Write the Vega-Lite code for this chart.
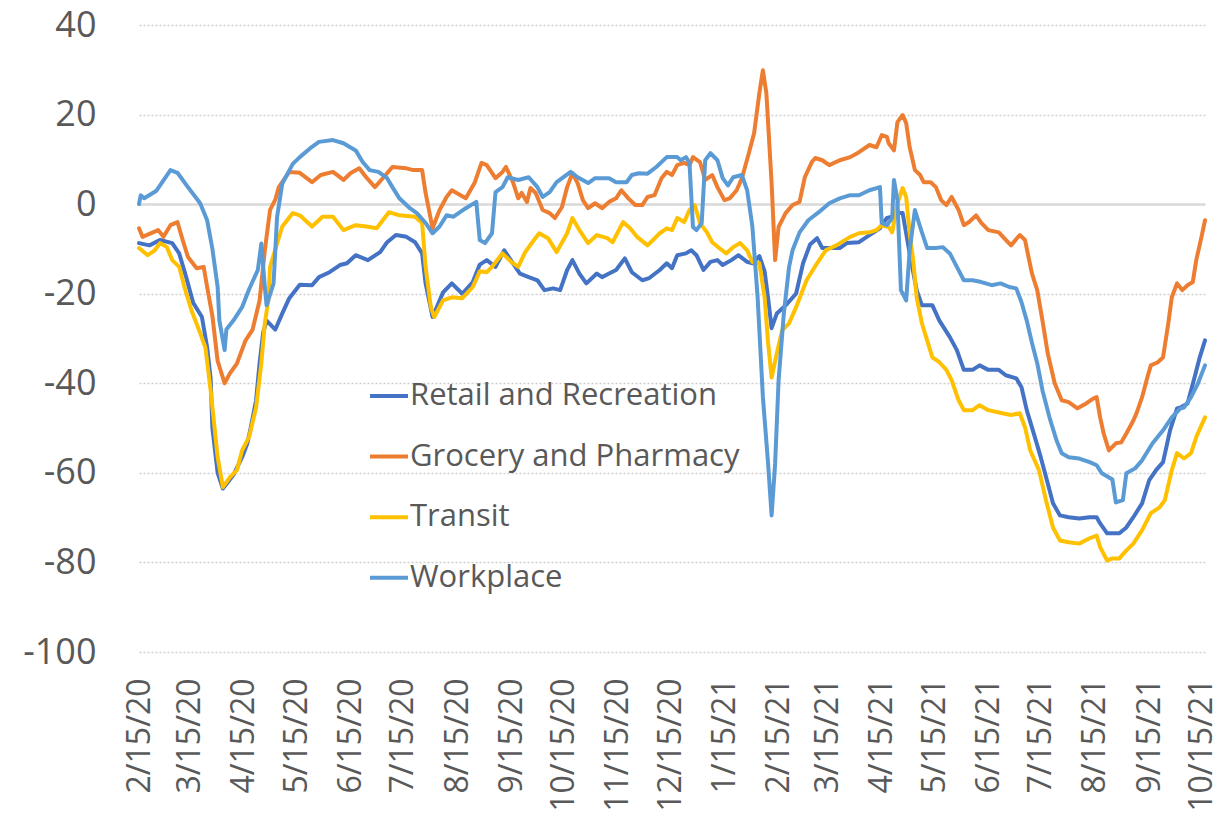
{
"$schema": "https://vega.github.io/schema/vega-lite/v6.json",
"width": 1066, "height": 627,
"autosize": {"type": "none"},
"padding": {"left": 139, "top": 25, "right": 21, "bottom": 166},
"background": "white",
"config": {"view": {"stroke": null}, "font": "Open Sans"},
"datasets": {
"retail": [
{"date":"2020-02-15","value":-8.7},{"date":"2020-02-21","value":-9.2},{"date":"2020-02-27","value":-8},{"date":"2020-03-05","value":-8.7},{"date":"2020-03-09","value":-11},{"date":"2020-03-13","value":-16.3},{"date":"2020-03-17","value":-22},{"date":"2020-03-22","value":-25.2},{"date":"2020-03-25","value":-32},{"date":"2020-03-27","value":-39},{"date":"2020-03-28","value":-50},{"date":"2020-03-31","value":-60},{"date":"2020-04-03","value":-63.5},{"date":"2020-04-06","value":-62},{"date":"2020-04-09","value":-60.5},{"date":"2020-04-14","value":-56.5},{"date":"2020-04-17","value":-53.4},{"date":"2020-04-19","value":-49.8},{"date":"2020-04-22","value":-43.8},{"date":"2020-04-24","value":-35.5},{"date":"2020-04-26","value":-28.8},{"date":"2020-04-28","value":-26},{"date":"2020-05-03","value":-28},{"date":"2020-05-07","value":-24.4},{"date":"2020-05-11","value":-21},{"date":"2020-05-17","value":-18},{"date":"2020-05-24","value":-18.1},{"date":"2020-05-28","value":-16.3},{"date":"2020-06-03","value":-15.2},{"date":"2020-06-09","value":-13.6},{"date":"2020-06-13","value":-13.2},{"date":"2020-06-18","value":-11.4},{"date":"2020-06-25","value":-12.5},{"date":"2020-07-02","value":-10.7},{"date":"2020-07-06","value":-8.5},{"date":"2020-07-11","value":-6.9},{"date":"2020-07-17","value":-7.3},{"date":"2020-07-22","value":-8.5},{"date":"2020-07-26","value":-11},{"date":"2020-07-28","value":-17.7},{"date":"2020-08-01","value":-25.2},{"date":"2020-08-07","value":-19.7},{"date":"2020-08-12","value":-17.7},{"date":"2020-08-18","value":-20},{"date":"2020-08-24","value":-17.4},{"date":"2020-08-28","value":-13.5},{"date":"2020-09-01","value":-12.5},{"date":"2020-09-06","value":-14},{"date":"2020-09-11","value":-10.3},{"date":"2020-09-16","value":-13.2},{"date":"2020-09-20","value":-15.5},{"date":"2020-09-25","value":-16.3},{"date":"2020-09-30","value":-17},{"date":"2020-10-04","value":-19.2},{"date":"2020-10-09","value":-18.8},{"date":"2020-10-13","value":-19.2},{"date":"2020-10-17","value":-14.7},{"date":"2020-10-20","value":-12.5},{"date":"2020-10-24","value":-15.5},{"date":"2020-10-28","value":-17.7},{"date":"2020-11-03","value":-15.5},{"date":"2020-11-06","value":-16.3},{"date":"2020-11-10","value":-15.5},{"date":"2020-11-14","value":-14.7},{"date":"2020-11-19","value":-12.1},{"date":"2020-11-23","value":-15.2},{"date":"2020-11-29","value":-17},{"date":"2020-12-03","value":-16.5},{"date":"2020-12-09","value":-14.7},{"date":"2020-12-13","value":-13.2},{"date":"2020-12-16","value":-14.3},{"date":"2020-12-19","value":-11.4},{"date":"2020-12-24","value":-11},{"date":"2020-12-27","value":-10.3},{"date":"2020-12-30","value":-11.4},{"date":"2021-01-03","value":-14.7},{"date":"2021-01-07","value":-12.9},{"date":"2021-01-11","value":-12.5},{"date":"2021-01-14","value":-13.6},{"date":"2021-01-19","value":-12.5},{"date":"2021-01-23","value":-11.4},{"date":"2021-01-28","value":-12.9},{"date":"2021-01-31","value":-13.2},{"date":"2021-02-04","value":-11.6},{"date":"2021-02-07","value":-15},{"date":"2021-02-09","value":-21},{"date":"2021-02-11","value":-27.7},{"date":"2021-02-14","value":-24.4},{"date":"2021-02-19","value":-22.6},{"date":"2021-02-25","value":-20},{"date":"2021-03-01","value":-13.2},{"date":"2021-03-05","value":-9},{"date":"2021-03-09","value":-7.6},{"date":"2021-03-12","value":-9.8},{"date":"2021-03-16","value":-9.8},{"date":"2021-03-22","value":-9.8},{"date":"2021-03-26","value":-8.7},{"date":"2021-04-02","value":-8.5},{"date":"2021-04-08","value":-6.9},{"date":"2021-04-14","value":-5.4},{"date":"2021-04-15","value":-4.7},{"date":"2021-04-18","value":-3.1},{"date":"2021-04-21","value":-2.8},{"date":"2021-04-25","value":-2},{"date":"2021-04-27","value":-2},{"date":"2021-05-01","value":-11},{"date":"2021-05-05","value":-19.2},{"date":"2021-05-08","value":-22.6},{"date":"2021-05-14","value":-22.6},{"date":"2021-05-18","value":-26},{"date":"2021-05-24","value":-29.7},{"date":"2021-05-28","value":-32.6},{"date":"2021-06-01","value":-37},{"date":"2021-06-06","value":-37},{"date":"2021-06-10","value":-36},{"date":"2021-06-15","value":-37},{"date":"2021-06-21","value":-37},{"date":"2021-06-25","value":-38.2},{"date":"2021-07-01","value":-38.9},{"date":"2021-07-04","value":-40.9},{"date":"2021-07-07","value":-46},{"date":"2021-07-11","value":-51.2},{"date":"2021-07-15","value":-56.5},{"date":"2021-07-19","value":-62.3},{"date":"2021-07-22","value":-66.8},{"date":"2021-07-26","value":-69.5},{"date":"2021-07-31","value":-69.9},{"date":"2021-08-06","value":-70.2},{"date":"2021-08-12","value":-69.9},{"date":"2021-08-16","value":-69.9},{"date":"2021-08-18","value":-71.3},{"date":"2021-08-22","value":-73.5},{"date":"2021-08-26","value":-73.5},{"date":"2021-08-29","value":-73.5},{"date":"2021-09-02","value":-72.2},{"date":"2021-09-06","value":-69.9},{"date":"2021-09-11","value":-66.8},{"date":"2021-09-15","value":-61.7},{"date":"2021-09-19","value":-59.4},{"date":"2021-09-23","value":-57.6},{"date":"2021-09-27","value":-50.5},{"date":"2021-10-01","value":-45.6},{"date":"2021-10-03","value":-45.4},{"date":"2021-10-07","value":-44.5},{"date":"2021-10-11","value":-38.7},{"date":"2021-10-14","value":-34.2},{"date":"2021-10-17","value":-30.4}
],
"grocery": [
{"date":"2020-02-15","value":-5.4},{"date":"2020-02-17","value":-7.3},{"date":"2020-02-26","value":-5.8},{"date":"2020-02-29","value":-7.3},{"date":"2020-03-04","value":-4.7},{"date":"2020-03-08","value":-4},{"date":"2020-03-11","value":-8},{"date":"2020-03-14","value":-11.8},{"date":"2020-03-19","value":-14.3},{"date":"2020-03-23","value":-14},{"date":"2020-03-25","value":-18.5},{"date":"2020-03-28","value":-25},{"date":"2020-03-31","value":-35},{"date":"2020-04-04","value":-40},{"date":"2020-04-07","value":-37.8},{"date":"2020-04-11","value":-35.6},{"date":"2020-04-16","value":-30.4},{"date":"2020-04-20","value":-28},{"date":"2020-04-24","value":-21.5},{"date":"2020-04-27","value":-10.3},{"date":"2020-04-30","value":-1.3},{"date":"2020-05-03","value":1},{"date":"2020-05-05","value":3.8},{"date":"2020-05-11","value":7.2},{"date":"2020-05-17","value":7},{"date":"2020-05-24","value":4.9},{"date":"2020-05-29","value":6.5},{"date":"2020-06-05","value":7.2},{"date":"2020-06-11","value":5.4},{"date":"2020-06-15","value":6.9},{"date":"2020-06-20","value":8},{"date":"2020-06-24","value":6},{"date":"2020-06-29","value":3.8},{"date":"2020-07-04","value":6},{"date":"2020-07-09","value":8.3},{"date":"2020-07-17","value":8},{"date":"2020-07-21","value":7.6},{"date":"2020-07-26","value":7.6},{"date":"2020-07-28","value":2.5},{"date":"2020-08-01","value":-5.4},{"date":"2020-08-05","value":-1.3},{"date":"2020-08-09","value":1.6},{"date":"2020-08-12","value":3.1},{"date":"2020-08-20","value":1.3},{"date":"2020-08-25","value":4.7},{"date":"2020-08-29","value":9.2},{"date":"2020-09-01","value":8.7},{"date":"2020-09-06","value":5.8},{"date":"2020-09-10","value":7.2},{"date":"2020-09-12","value":8.3},{"date":"2020-09-16","value":4.9},{"date":"2020-09-19","value":1.3},{"date":"2020-09-21","value":2.5},{"date":"2020-09-24","value":0.5},{"date":"2020-09-26","value":3.6},{"date":"2020-09-29","value":2.5},{"date":"2020-10-03","value":-1.3},{"date":"2020-10-07","value":-2},{"date":"2020-10-10","value":-3.1},{"date":"2020-10-14","value":-0.7},{"date":"2020-10-17","value":3.8},{"date":"2020-10-20","value":6.9},{"date":"2020-10-23","value":4.7},{"date":"2020-10-26","value":0.9},{"date":"2020-10-29","value":-0.9},{"date":"2020-11-02","value":0.2},{"date":"2020-11-06","value":-0.9},{"date":"2020-11-10","value":0.5},{"date":"2020-11-14","value":1.3},{"date":"2020-11-17","value":3.1},{"date":"2020-11-21","value":1.3},{"date":"2020-11-25","value":-0.2},{"date":"2020-11-29","value":-0.2},{"date":"2020-12-02","value":1.6},{"date":"2020-12-06","value":2},{"date":"2020-12-10","value":5.8},{"date":"2020-12-13","value":7.2},{"date":"2020-12-16","value":6.5},{"date":"2020-12-19","value":8.7},{"date":"2020-12-23","value":9.2},{"date":"2020-12-26","value":8.7},{"date":"2020-12-28","value":10.5},{"date":"2021-01-01","value":9.4},{"date":"2021-01-04","value":5.4},{"date":"2021-01-08","value":6.5},{"date":"2021-01-11","value":3.8},{"date":"2021-01-15","value":0.9},{"date":"2021-01-18","value":1.3},{"date":"2021-01-22","value":3.1},{"date":"2021-01-25","value":5.8},{"date":"2021-01-29","value":11.4},{"date":"2021-02-01","value":15.9},{"date":"2021-02-04","value":24.8},{"date":"2021-02-06","value":29.9},{"date":"2021-02-08","value":24.8},{"date":"2021-02-11","value":4.7},{"date":"2021-02-13","value":-12.5},{"date":"2021-02-15","value":-5.1},{"date":"2021-02-19","value":-2},{"date":"2021-02-23","value":-0.2},{"date":"2021-02-27","value":0.5},{"date":"2021-03-02","value":6},{"date":"2021-03-06","value":9.4},{"date":"2021-03-08","value":10.3},{"date":"2021-03-12","value":9.8},{"date":"2021-03-16","value":8.7},{"date":"2021-03-22","value":9.8},{"date":"2021-03-28","value":10.5},{"date":"2021-04-02","value":11.6},{"date":"2021-04-08","value":13.2},{"date":"2021-04-12","value":12.7},{"date":"2021-04-15","value":15.4},{"date":"2021-04-18","value":15},{"date":"2021-04-19","value":13.6},{"date":"2021-04-22","value":12},{"date":"2021-04-24","value":18.3},{"date":"2021-04-27","value":19.9},{"date":"2021-04-29","value":18.1},{"date":"2021-05-01","value":12.7},{"date":"2021-05-04","value":7.6},{"date":"2021-05-07","value":6.5},{"date":"2021-05-09","value":4.9},{"date":"2021-05-13","value":4.9},{"date":"2021-05-16","value":3.8},{"date":"2021-05-19","value":0.9},{"date":"2021-05-22","value":-0.2},{"date":"2021-05-25","value":1.6},{"date":"2021-05-29","value":-1.3},{"date":"2021-06-01","value":-4.7},{"date":"2021-06-04","value":-4},{"date":"2021-06-08","value":-2.5},{"date":"2021-06-11","value":-4.2},{"date":"2021-06-15","value":-5.8},{"date":"2021-06-21","value":-6.3},{"date":"2021-06-25","value":-8},{"date":"2021-06-28","value":-9.2},{"date":"2021-07-03","value":-6.9},{"date":"2021-07-06","value":-8},{"date":"2021-07-08","value":-11.8},{"date":"2021-07-10","value":-15.5},{"date":"2021-07-13","value":-19.2},{"date":"2021-07-16","value":-26},{"date":"2021-07-19","value":-33.3},{"date":"2021-07-23","value":-40},{"date":"2021-07-27","value":-43.8},{"date":"2021-07-31","value":-44.2},{"date":"2021-08-05","value":-45.6},{"date":"2021-08-10","value":-44.5},{"date":"2021-08-14","value":-43.4},{"date":"2021-08-16","value":-43.1},{"date":"2021-08-18","value":-47.6},{"date":"2021-08-20","value":-51.2},{"date":"2021-08-23","value":-55},{"date":"2021-08-27","value":-53.4},{"date":"2021-08-30","value":-53.2},{"date":"2021-09-02","value":-51.2},{"date":"2021-09-06","value":-48.3},{"date":"2021-09-08","value":-46.5},{"date":"2021-09-11","value":-43.1},{"date":"2021-09-14","value":-38.7},{"date":"2021-09-16","value":-36},{"date":"2021-09-20","value":-35.3},{"date":"2021-09-23","value":-34.2},{"date":"2021-09-26","value":-26.6},{"date":"2021-09-28","value":-20.8},{"date":"2021-10-01","value":-17.7},{"date":"2021-10-04","value":-19.2},{"date":"2021-10-07","value":-18.1},{"date":"2021-10-10","value":-17.4},{"date":"2021-10-12","value":-12.5},{"date":"2021-10-15","value":-7.3},{"date":"2021-10-17","value":-3.6}
],
"transit": [
{"date":"2020-02-15","value":-9.8},{"date":"2020-02-20","value":-11.4},{"date":"2020-02-24","value":-10.3},{"date":"2020-02-27","value":-8.7},{"date":"2020-03-02","value":-9.6},{"date":"2020-03-05","value":-12.5},{"date":"2020-03-09","value":-14},{"date":"2020-03-12","value":-18.5},{"date":"2020-03-16","value":-23.7},{"date":"2020-03-21","value":-28.8},{"date":"2020-03-24","value":-32},{"date":"2020-03-27","value":-41.6},{"date":"2020-03-31","value":-56.5},{"date":"2020-04-03","value":-63.2},{"date":"2020-04-07","value":-61},{"date":"2020-04-11","value":-59.4},{"date":"2020-04-14","value":-55},{"date":"2020-04-18","value":-52},{"date":"2020-04-22","value":-45.4},{"date":"2020-04-25","value":-35.5},{"date":"2020-04-27","value":-26.6},{"date":"2020-04-29","value":-21.5},{"date":"2020-04-30","value":-14},{"date":"2020-05-04","value":-8.8},{"date":"2020-05-07","value":-5},{"date":"2020-05-13","value":-2},{"date":"2020-05-17","value":-2.5},{"date":"2020-05-24","value":-5},{"date":"2020-05-30","value":-2.8},{"date":"2020-06-05","value":-2.8},{"date":"2020-06-11","value":-5.8},{"date":"2020-06-18","value":-4.7},{"date":"2020-06-24","value":-5},{"date":"2020-06-30","value":-5.4},{"date":"2020-07-07","value":-1.8},{"date":"2020-07-13","value":-2.5},{"date":"2020-07-22","value":-2.8},{"date":"2020-07-26","value":-4.2},{"date":"2020-07-28","value":-14},{"date":"2020-07-31","value":-23},{"date":"2020-08-02","value":-25.2},{"date":"2020-08-07","value":-21.5},{"date":"2020-08-12","value":-20.8},{"date":"2020-08-18","value":-21},{"date":"2020-08-24","value":-18.5},{"date":"2020-08-28","value":-15},{"date":"2020-09-01","value":-15.2},{"date":"2020-09-04","value":-14},{"date":"2020-09-10","value":-11},{"date":"2020-09-15","value":-12.9},{"date":"2020-09-19","value":-14},{"date":"2020-09-23","value":-10.7},{"date":"2020-09-28","value":-8},{"date":"2020-10-01","value":-6.5},{"date":"2020-10-06","value":-7.6},{"date":"2020-10-11","value":-10.7},{"date":"2020-10-17","value":-6.5},{"date":"2020-10-20","value":-3.1},{"date":"2020-10-24","value":-5.8},{"date":"2020-10-29","value":-8.7},{"date":"2020-11-03","value":-6.9},{"date":"2020-11-09","value":-7.6},{"date":"2020-11-12","value":-8.5},{"date":"2020-11-18","value":-4},{"date":"2020-11-22","value":-5.4},{"date":"2020-11-26","value":-7.3},{"date":"2020-12-02","value":-9.2},{"date":"2020-12-09","value":-6.5},{"date":"2020-12-13","value":-5.4},{"date":"2020-12-16","value":-5.8},{"date":"2020-12-19","value":-3.1},{"date":"2020-12-23","value":-4},{"date":"2020-12-26","value":-1.3},{"date":"2020-12-29","value":-0.2},{"date":"2021-01-01","value":-4.2},{"date":"2021-01-05","value":-6.3},{"date":"2021-01-08","value":-8.5},{"date":"2021-01-12","value":-9.8},{"date":"2021-01-16","value":-11},{"date":"2021-01-20","value":-9.6},{"date":"2021-01-24","value":-8.7},{"date":"2021-01-28","value":-10.3},{"date":"2021-01-31","value":-12.9},{"date":"2021-02-04","value":-13.2},{"date":"2021-02-07","value":-20.8},{"date":"2021-02-09","value":-31},{"date":"2021-02-11","value":-38.7},{"date":"2021-02-14","value":-33.3},{"date":"2021-02-17","value":-28.2},{"date":"2021-02-21","value":-26.6},{"date":"2021-02-25","value":-23},{"date":"2021-03-03","value":-17},{"date":"2021-03-09","value":-13.2},{"date":"2021-03-14","value":-10.3},{"date":"2021-03-20","value":-9.2},{"date":"2021-03-28","value":-7.3},{"date":"2021-04-02","value":-6.5},{"date":"2021-04-08","value":-6.3},{"date":"2021-04-12","value":-5.8},{"date":"2021-04-15","value":-4.7},{"date":"2021-04-19","value":-5.1},{"date":"2021-04-21","value":-6.3},{"date":"2021-04-24","value":0.2},{"date":"2021-04-27","value":3.6},{"date":"2021-04-29","value":1.6},{"date":"2021-05-01","value":-6.5},{"date":"2021-05-03","value":-12.5},{"date":"2021-05-05","value":-20.8},{"date":"2021-05-08","value":-26.6},{"date":"2021-05-11","value":-30.4},{"date":"2021-05-14","value":-34.2},{"date":"2021-05-18","value":-35.3},{"date":"2021-05-22","value":-37},{"date":"2021-05-25","value":-39.3},{"date":"2021-05-29","value":-43.8},{"date":"2021-06-01","value":-46},{"date":"2021-06-06","value":-46},{"date":"2021-06-10","value":-44.9},{"date":"2021-06-15","value":-46},{"date":"2021-06-23","value":-46.7},{"date":"2021-06-28","value":-47.1},{"date":"2021-07-03","value":-46.7},{"date":"2021-07-06","value":-49.8},{"date":"2021-07-09","value":-55},{"date":"2021-07-14","value":-59.4},{"date":"2021-07-18","value":-66.1},{"date":"2021-07-22","value":-72.2},{"date":"2021-07-26","value":-75.1},{"date":"2021-07-31","value":-75.5},{"date":"2021-08-06","value":-75.8},{"date":"2021-08-12","value":-74.6},{"date":"2021-08-16","value":-74},{"date":"2021-08-18","value":-76.6},{"date":"2021-08-22","value":-79.6},{"date":"2021-08-25","value":-79.1},{"date":"2021-08-29","value":-79.1},{"date":"2021-09-02","value":-77.3},{"date":"2021-09-06","value":-75.8},{"date":"2021-09-11","value":-72.8},{"date":"2021-09-16","value":-69},{"date":"2021-09-21","value":-67.7},{"date":"2021-09-24","value":-66.1},{"date":"2021-09-28","value":-59.4},{"date":"2021-10-01","value":-55.6},{"date":"2021-10-05","value":-56.8},{"date":"2021-10-09","value":-55.6},{"date":"2021-10-12","value":-52},{"date":"2021-10-17","value":-47.6}
],
"workplace": [
{"date":"2020-02-15","value":0},{"date":"2020-02-16","value":2},{"date":"2020-02-18","value":1.3},{"date":"2020-02-25","value":3},{"date":"2020-03-04","value":7.6},{"date":"2020-03-08","value":7},{"date":"2020-03-14","value":3.8},{"date":"2020-03-21","value":0.2},{"date":"2020-03-25","value":-3.6},{"date":"2020-03-28","value":-10},{"date":"2020-03-31","value":-18.5},{"date":"2020-04-01","value":-26},{"date":"2020-04-04","value":-32.6},{"date":"2020-04-05","value":-28},{"date":"2020-04-09","value":-26},{"date":"2020-04-14","value":-23},{"date":"2020-04-18","value":-19},{"date":"2020-04-23","value":-14.7},{"date":"2020-04-25","value":-8.8},{"date":"2020-04-27","value":-18.5},{"date":"2020-04-28","value":-22.6},{"date":"2020-05-02","value":-17.7},{"date":"2020-05-04","value":-2.9},{"date":"2020-05-07","value":4.6},{"date":"2020-05-13","value":9},{"date":"2020-05-17","value":10.5},{"date":"2020-05-23","value":12.5},{"date":"2020-05-28","value":13.9},{"date":"2020-06-05","value":14.3},{"date":"2020-06-11","value":13.6},{"date":"2020-06-18","value":12},{"date":"2020-06-22","value":9.4},{"date":"2020-06-26","value":7.6},{"date":"2020-07-01","value":7.2},{"date":"2020-07-06","value":5.8},{"date":"2020-07-09","value":3.8},{"date":"2020-07-13","value":1.3},{"date":"2020-07-19","value":-0.9},{"date":"2020-07-23","value":-2},{"date":"2020-07-28","value":-4.2},{"date":"2020-08-01","value":-6.5},{"date":"2020-08-05","value":-5},{"date":"2020-08-09","value":-2.5},{"date":"2020-08-13","value":-2.8},{"date":"2020-08-20","value":-0.9},{"date":"2020-08-26","value":0.5},{"date":"2020-08-28","value":-8},{"date":"2020-08-31","value":-8.7},{"date":"2020-09-04","value":-6.5},{"date":"2020-09-06","value":2.7},{"date":"2020-09-10","value":3.8},{"date":"2020-09-13","value":6},{"date":"2020-09-19","value":5.4},{"date":"2020-09-25","value":6},{"date":"2020-09-30","value":3.8},{"date":"2020-10-03","value":1.6},{"date":"2020-10-07","value":2.7},{"date":"2020-10-11","value":4.9},{"date":"2020-10-19","value":7.2},{"date":"2020-10-23","value":6},{"date":"2020-10-29","value":4.7},{"date":"2020-11-02","value":5.8},{"date":"2020-11-10","value":5.8},{"date":"2020-11-14","value":4.9},{"date":"2020-11-20","value":4.9},{"date":"2020-11-23","value":6.5},{"date":"2020-11-27","value":6.9},{"date":"2020-12-02","value":6.8},{"date":"2020-12-07","value":8.3},{"date":"2020-12-13","value":10.5},{"date":"2020-12-19","value":10.5},{"date":"2020-12-21","value":9.8},{"date":"2020-12-24","value":10.5},{"date":"2020-12-26","value":9.2},{"date":"2020-12-28","value":-5.1},{"date":"2020-12-30","value":-5.8},{"date":"2021-01-02","value":-4.2},{"date":"2021-01-04","value":9.8},{"date":"2021-01-07","value":11.4},{"date":"2021-01-11","value":9.8},{"date":"2021-01-14","value":5.8},{"date":"2021-01-17","value":4.2},{"date":"2021-01-20","value":6},{"date":"2021-01-25","value":6.5},{"date":"2021-01-28","value":3.1},{"date":"2021-01-31","value":-5},{"date":"2021-02-03","value":-20.8},{"date":"2021-02-06","value":-43},{"date":"2021-02-09","value":-58},{"date":"2021-02-11","value":-69.5},{"date":"2021-02-13","value":-58},{"date":"2021-02-15","value":-39.3},{"date":"2021-02-18","value":-24.4},{"date":"2021-02-21","value":-14},{"date":"2021-02-23","value":-10.3},{"date":"2021-02-27","value":-6.3},{"date":"2021-03-04","value":-3.6},{"date":"2021-03-10","value":-1.8},{"date":"2021-03-16","value":0.2},{"date":"2021-03-22","value":1.3},{"date":"2021-03-28","value":2},{"date":"2021-04-02","value":2},{"date":"2021-04-08","value":3.1},{"date":"2021-04-14","value":3.8},{"date":"2021-04-15","value":-4.2},{"date":"2021-04-18","value":-4.7},{"date":"2021-04-21","value":-3.1},{"date":"2021-04-22","value":5.4},{"date":"2021-04-24","value":0.9},{"date":"2021-04-26","value":-19.2},{"date":"2021-04-29","value":-21.5},{"date":"2021-05-01","value":-10.3},{"date":"2021-05-04","value":-1.3},{"date":"2021-05-07","value":-5.1},{"date":"2021-05-11","value":-9.8},{"date":"2021-05-16","value":-9.8},{"date":"2021-05-20","value":-9.6},{"date":"2021-05-24","value":-11},{"date":"2021-05-28","value":-14},{"date":"2021-06-01","value":-17},{"date":"2021-06-06","value":-17},{"date":"2021-06-11","value":-17.4},{"date":"2021-06-17","value":-18.1},{"date":"2021-06-22","value":-17.7},{"date":"2021-06-27","value":-18.5},{"date":"2021-07-01","value":-18.8},{"date":"2021-07-04","value":-21.9},{"date":"2021-07-07","value":-26},{"date":"2021-07-10","value":-31},{"date":"2021-07-13","value":-35.5},{"date":"2021-07-16","value":-41.6},{"date":"2021-07-20","value":-47.6},{"date":"2021-07-24","value":-52.7},{"date":"2021-07-27","value":-55.6},{"date":"2021-07-31","value":-56.5},{"date":"2021-08-06","value":-56.8},{"date":"2021-08-12","value":-57.6},{"date":"2021-08-16","value":-58.3},{"date":"2021-08-19","value":-60.1},{"date":"2021-08-25","value":-61.5},{"date":"2021-08-27","value":-66.6},{"date":"2021-08-31","value":-66.1},{"date":"2021-09-02","value":-60.1},{"date":"2021-09-07","value":-59},{"date":"2021-09-11","value":-57.2},{"date":"2021-09-17","value":-53.4},{"date":"2021-09-23","value":-50.5},{"date":"2021-09-28","value":-47.6},{"date":"2021-10-03","value":-45.6},{"date":"2021-10-05","value":-45.4},{"date":"2021-10-09","value":-43.1},{"date":"2021-10-13","value":-40},{"date":"2021-10-17","value":-36}
]
},
"encoding": {
  "x": {"field": "date", "type": "temporal",
    "scale": {"type": "utc", "domain": [{"year": 2020, "month": 2, "date": 15, "utc": true}, {"year": 2021, "month": 10, "date": 17, "utc": true}]},
    "axis": {"title": null, "grid": false, "domain": false, "ticks": false, "format": "%-m/%-d/%y", "labelAngle": -90, "labelPadding": 26, "labelFontSize": 32, "labelFont": "Open Sans", "labelColor": "#595959", "labelOverlap": false, "labelFlush": false,
      "values": [{"year":2020,"month":2,"date":15,"utc":true},{"year":2020,"month":3,"date":15,"utc":true},{"year":2020,"month":4,"date":15,"utc":true},{"year":2020,"month":5,"date":15,"utc":true},{"year":2020,"month":6,"date":15,"utc":true},{"year":2020,"month":7,"date":15,"utc":true},{"year":2020,"month":8,"date":15,"utc":true},{"year":2020,"month":9,"date":15,"utc":true},{"year":2020,"month":10,"date":15,"utc":true},{"year":2020,"month":11,"date":15,"utc":true},{"year":2020,"month":12,"date":15,"utc":true},{"year":2021,"month":1,"date":15,"utc":true},{"year":2021,"month":2,"date":15,"utc":true},{"year":2021,"month":3,"date":15,"utc":true},{"year":2021,"month":4,"date":15,"utc":true},{"year":2021,"month":5,"date":15,"utc":true},{"year":2021,"month":6,"date":15,"utc":true},{"year":2021,"month":7,"date":15,"utc":true},{"year":2021,"month":8,"date":15,"utc":true},{"year":2021,"month":9,"date":15,"utc":true},{"year":2021,"month":10,"date":15,"utc":true}]}},
  "y": {"field": "value", "type": "quantitative",
    "scale": {"domain": [-100, 40], "nice": false, "zero": false},
    "axis": {"title": null, "domain": false, "ticks": false, "values": [-100, -80, -60, -40, -20, 0, 20, 40], "labelExpr": "datum.value + ''", "labelPadding": 43, "labelFontSize": 36, "labelFont": "Open Sans", "labelColor": "#595959",
      "gridColor": {"condition": {"test": "datum.value === 0", "value": "#D9D9D9"}, "value": "#CFCFCF"},
      "gridWidth": {"condition": {"test": "datum.value === 0", "value": 2.5}, "value": 1.6},
      "gridDash": {"condition": {"test": "datum.value === 0", "value": [1, 0]}, "value": [2, 2]}}}
},
"layer": [
  {"data": {"name": "retail"}, "mark": {"type": "line", "strokeWidth": 4, "strokeJoin": "round", "strokeCap": "round"},
   "encoding": {"color": {"datum": "Retail and Recreation", "type": "nominal",
     "scale": {"domain": ["Retail and Recreation", "Grocery and Pharmacy", "Transit", "Workplace"], "range": ["#4472C4", "#ED7D31", "#FFC000", "#5B9BD5"]},
     "legend": {"orient": "none", "legendX": 229, "legendY": 350, "title": null, "padding": 0, "symbolType": "stroke", "symbolSize": 1444, "symbolStrokeWidth": 4, "labelFontSize": 31, "labelFont": "Open Sans", "labelColor": "#595959", "labelLimit": 0, "rowPadding": 24.6, "labelOffset": 0}}}},
  {"data": {"name": "grocery"}, "mark": {"type": "line", "strokeWidth": 4, "strokeJoin": "round", "strokeCap": "round"},
   "encoding": {"color": {"datum": "Grocery and Pharmacy", "type": "nominal"}}},
  {"data": {"name": "transit"}, "mark": {"type": "line", "strokeWidth": 4, "strokeJoin": "round", "strokeCap": "round"},
   "encoding": {"color": {"datum": "Transit", "type": "nominal"}}},
  {"data": {"name": "workplace"}, "mark": {"type": "line", "strokeWidth": 4, "strokeJoin": "round", "strokeCap": "round"},
   "encoding": {"color": {"datum": "Workplace", "type": "nominal"}}}
]
}
